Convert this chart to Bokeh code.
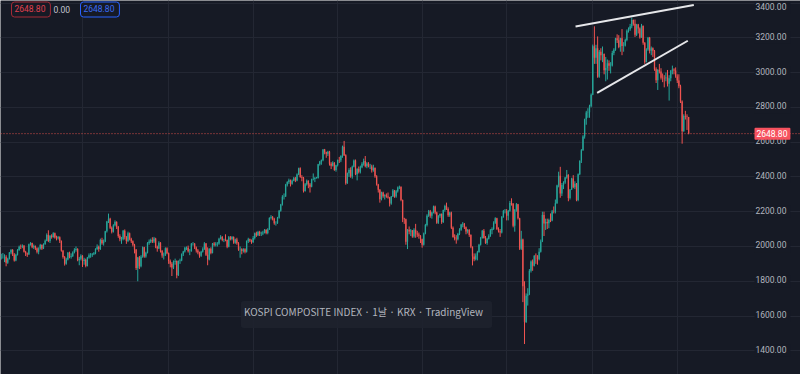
import numpy as np
from bokeh.plotting import figure
from bokeh.models import (FixedTicker, Span, Label, Range1d, ColumnDataSource)
from bokeh.embed import file_html
from bokeh.resources import INLINE

# KOSPI composite, one candle per week, starting with the week of 2014-01-06
first_open = 1946

close_2014 = [1938,1940,1940,1941,1907,1930,1965,1980,1954,1920,1953,1980,1998,1997,2004,1970,1959,1954,2013,2020,
              1995,2002,1990,1970,1988,2009,1988,2013,2033,2066,2031,2061,2055,2076,2051,2047,2053,2031,1976,1940,
              1900,1925,1964,1939,1944,1965,1980,1986,1921,1929,1946,1916]
high_2014 = [1965,1958,1962,1955,1950,1935,1968,1985,1985,1962,1958,1985,2005,2011,2012,2008,1975,1965,2016,2025,
             2022,2011,2006,1995,1995,2015,2012,2018,2040,2075,2093,2065,2070,2082,2080,2062,2060,2058,2035,1980,
             1945,1935,1968,1970,1960,1972,1990,2000,1990,1940,1955,1950]
low_2014 = [1925,1925,1930,1910,1886,1900,1925,1955,1945,1913,1915,1948,1975,1985,1990,1965,1945,1940,1952,2005,
            1990,1985,1980,1960,1955,1982,1980,1985,2010,2030,2025,2020,2045,2050,2045,2035,2040,2020,1970,1930,
            1890,1895,1920,1932,1930,1940,1960,1970,1915,1892,1920,1882]

close_2015 = [1924,1888,1936,1949,1953,1955,1961,1985,1998,1986,2037,2019,2029,2087,2143,2159,2107,2085,2122,2141,
              2114,2060,2042,2042,2091,2053,2031,2076,2044,2030,2010,1983,1876,1937,1886,1941,1995,1942,1964,2020,
              2029,2037,2029,2046,1999,1989,2022,1974,1948,1953,1990,1961]
high_2015 = [1935,1930,1940,1960,1962,1962,1968,1990,2012,2005,2045,2050,2040,2090,2147,2189,2165,2115,2128,2150,
             2145,2118,2070,2055,2095,2098,2060,2085,2080,2050,2035,2015,1985,1940,1945,1950,2000,1998,1970,2025,
             2040,2045,2053,2055,2050,2005,2030,2025,1980,1965,1995,1995]
low_2015 = [1895,1880,1885,1930,1935,1940,1950,1955,1980,1970,1980,2010,2005,2025,2080,2135,2100,2075,2080,2115,
            2100,2050,2030,2015,2035,2040,2015,2025,2035,2020,2000,1960,1865,1800,1870,1880,1935,1935,1935,1960,
            2010,2020,2020,2020,1990,1970,1985,1965,1935,1925,1945,1955]

close_2016 = [1917,1900,1879,1912,1917,1835,1916,1920,1955,1971,1992,1993,1972,1972,2015,2015,1994,1977,1966,1947,
              1969,1985,2017,1953,1925,1987,1963,2017,2010,2016,2017,2044,2055,2037,2038,2037,1999,2053,2043,2054,
              2022,2040,2019,1982,1984,1974,1984,1970,2031,2042,2035,2026]
high_2016 = [1965,1925,1910,1920,1930,1920,1920,1930,1960,1975,1998,2000,2005,1985,2020,2025,2020,2000,1985,1970,
             1975,1995,2025,2020,1995,1990,1995,2020,2025,2025,2025,2050,2065,2060,2045,2070,2040,2060,2060,2060,
             2058,2045,2050,2025,2000,1990,1990,1990,2035,2050,2045,2040]
low_2016 = [1900,1880,1830,1870,1895,1817,1830,1900,1915,1945,1965,1980,1965,1950,1970,2005,1985,1965,1955,1935,
            1940,1965,1980,1945,1892,1920,1955,1960,2000,2000,2000,2010,2040,2030,2025,2030,1990,1995,2035,2035,
            2015,2015,2010,1975,1935,1955,1965,1960,1965,2020,2025,2015]

close_2017 = [2049,2076,2065,2083,2073,2075,2080,2094,2078,2097,2164,2168,2160,2134,2134,2165,2205,2241,2286,2288,
              2355,2371,2381,2361,2378,2392,2379,2414,2450,2400,2395,2319,2358,2378,2357,2343,2386,2388,2394,2394,
              2473,2489,2496,2557,2542,2533,2544,2475,2464,2482,2440,2467]
high_2017 = [2060,2080,2085,2090,2090,2085,2090,2100,2100,2105,2168,2180,2175,2165,2145,2170,2210,2245,2295,2305,
             2360,2375,2390,2385,2385,2400,2400,2420,2453,2455,2410,2400,2365,2385,2380,2365,2390,2420,2400,2400,
             2475,2492,2500,2560,2561,2545,2550,2550,2485,2490,2485,2470]
low_2017 = [2020,2040,2055,2060,2060,2060,2065,2075,2070,2070,2095,2155,2150,2125,2120,2130,2160,2200,2235,2270,
            2285,2345,2360,2345,2355,2375,2370,2375,2410,2395,2375,2310,2315,2350,2335,2310,2340,2380,2370,2390,
            2390,2465,2470,2490,2530,2510,2520,2465,2445,2460,2435,2430]

close_2018 = [2497,2496,2520,2574,2525,2363,2421,2440,2402,2459,2494,2416,2445,2429,2455,2476,2492,2461,2477,2460,
              2460,2438,2451,2404,2357,2326,2272,2310,2289,2294,2287,2282,2247,2287,2322,2287,2318,2339,2343,2267,
              2161,2156,2027,2096,2086,2092,2057,2096,2075,2069,2061,2041]
high_2018 = [2500,2515,2525,2580,2607,2530,2425,2450,2455,2465,2500,2500,2450,2460,2465,2485,2505,2520,2485,2485,
             2475,2470,2470,2455,2410,2360,2330,2315,2315,2300,2305,2310,2285,2290,2330,2325,2325,2345,2350,2345,
             2270,2165,2160,2100,2115,2100,2095,2105,2130,2090,2080,2065]
low_2018 = [2460,2480,2485,2510,2520,2355,2360,2400,2395,2390,2455,2410,2380,2420,2420,2450,2465,2455,2450,2455,
            2445,2425,2430,2395,2350,2310,2252,2265,2280,2270,2280,2275,2230,2240,2285,2280,2280,2310,2330,2260,
            2140,2130,2010,1985,2070,2060,2050,2050,2050,2055,2045,2020]

close_2019 = [2010,2075,2124,2177,2203,2177,2196,2230,2195,2137,2176,2186,2140,2209,2233,2216,2179,2196,2108,2055,
              2045,2041,2072,2096,2126,2130,2110,2086,2094,2066,1998,1943,1927,1948,1967,2010,2049,2091,2049,2020,
              2044,2060,2093,2100,2137,2162,2101,2087,2081,2170,2204,2204]
high_2019 = [2045,2080,2130,2185,2210,2210,2200,2235,2235,2200,2180,2190,2190,2212,2240,2252,2225,2200,2200,2115,
             2070,2065,2078,2105,2130,2140,2135,2115,2100,2100,2070,2000,1960,1960,1975,2015,2055,2095,2100,2060,
             2050,2070,2100,2110,2145,2168,2165,2110,2100,2175,2210,2215]
low_2019 = [1993,2005,2070,2115,2170,2165,2160,2190,2185,2130,2130,2165,2130,2135,2200,2210,2170,2170,2100,2050,
            2035,2016,2035,2065,2090,2110,2100,2070,2075,2055,1990,1891,1915,1920,1920,1965,2005,2045,2045,2015,
            2010,2040,2055,2070,2095,2130,2095,2080,2055,2075,2165,2190]

close_2020 = [2176,2206,2250,2246,2119,2211,2243,2162,1987,2040,1771,1566,1717,1725,1860,1914,1889,1947,1945,1927,
              1970,2029,2181,2132,2141,2134,2152,2150,2201,2200,2249,2351,2407,2304,2353,2368,2396,2412,2278,2327,
              2391,2341,2360,2267,2416,2493,2553,2633,2731,2770,2772,2806,2873]
high_2020 = [2215,2210,2262,2277,2250,2215,2250,2245,2165,2090,2045,1800,1730,1760,1870,1920,1925,1950,1960,1950,
             1990,2040,2200,2200,2160,2160,2160,2190,2210,2230,2270,2355,2430,2458,2365,2375,2400,2440,2415,2330,
             2395,2410,2375,2365,2420,2495,2560,2640,2735,2780,2795,2815,2880]
low_2020 = [2150,2150,2200,2235,2110,2085,2200,2155,1980,1980,1680,1439,1560,1660,1720,1850,1860,1885,1900,1895,
            1920,1965,2025,2060,2095,2100,2105,2140,2145,2190,2190,2245,2340,2280,2290,2330,2360,2390,2260,2270,
            2325,2335,2330,2260,2260,2410,2480,2550,2620,2700,2740,2740,2800]

close_2021 = [3152,3085,3140,2976,3120,3100,3107,3013,3026,3054,3039,3041,3112,3131,3198,3186,3147,3197,3153,3156,
              3188,3240,3249,3267,3302,3281,3217,3276,3254,3202,3270,3171,3060,3133,3201,3125,3140,3125,3019,2956,
              3015,3006,2970,2969,2968,2971,2936,2968,3010,3017,3012,2977]
high_2021 = [3161,3266,3160,3208,3130,3140,3150,3110,3090,3075,3070,3060,3125,3140,3200,3220,3215,3200,3250,3175,
             3195,3248,3260,3280,3316,3305,3305,3280,3280,3260,3280,3270,3175,3140,3205,3205,3150,3145,3130,3030,
             3020,3050,3025,2995,2985,3000,3015,2985,3015,3040,3025,3030]
low_2021 = [2870,3050,3050,2970,2970,3070,3060,2990,2950,2960,3010,2995,3035,3100,3125,3170,3140,3120,3100,3120,
            3150,3180,3230,3240,3255,3270,3205,3210,3225,3195,3200,3160,3050,3060,3125,3110,3100,3090,3010,2940,
            2900,2995,2960,2945,2915,2950,2920,2839,2950,2990,2990,2970]

close_2022 = [2954,2921,2834,2663,2750,2747,2744,2648.80]
high_2022 = [2990,2990,2930,2840,2760,2780,2760,2745]
low_2022 = [2940,2910,2825,2591,2660,2730,2670,2645]

# week index of the first bar of each year 2015..2022 (vertical grid lines)
year_start_weeks = [51, 104, 156, 208, 260, 312, 365, 417]
# price scale ticks and their labels
price_ticks = [1400, 1600, 1800, 2000, 2200, 2400, 2600, 2800, 3000, 3200, 3400]
price_tick_labels = ["1400.00", "1600.00", "1800.00", "2000.00", "2200.00", "2400.00",
                     "2600.00", "2800.00", "3000.00", "3200.00", "3400.00"]
last_price = 2648.80
last_price_label = "2648.80"
change_label = "0.00"

# user-drawn trend lines (week index, price)
trend_x0 = [354.4, 367.7]
trend_y0 = [3265, 2883]
trend_x1 = [427.2, 423.5]
trend_y1 = [3388, 3183]

title_text = "KOSPI COMPOSITE INDEX · 1날 · KRX · TradingView"

# ---------------------------------------------------------------
close = (close_2014 + close_2015 + close_2016 + close_2017 + close_2018 +
         close_2019 + close_2020 + close_2021 + close_2022)
high = (high_2014 + high_2015 + high_2016 + high_2017 + high_2018 +
        high_2019 + high_2020 + high_2021 + high_2022)
low = (low_2014 + low_2015 + low_2016 + low_2017 + low_2018 +
       low_2019 + low_2020 + low_2021 + low_2022)
opens = [first_open] + close[:-1]
weeks = list(range(len(close)))

UP = "#26a69a"
DOWN = "#ef5350"
BG = "#161a25"
GRID = "#232733"
TXT = "#b2b5be"

colors = [UP if c >= o else DOWN for o, c in zip(opens, close)]
src = ColumnDataSource(dict(
    w=weeks, o=opens, c=close, h=high, l=low,
    top=[max(o, c) for o, c in zip(opens, close)],
    bottom=[min(o, c) for o, c in zip(opens, close)],
    color=colors,
))

W, H = 800, 374
px_per_week = 1.625
x_start = 0.538
x_end = x_start + W / px_per_week
y_lo, y_hi = 1263.7, 3414.5

p = figure(width=W, height=H, output_backend="svg", toolbar_location=None,
           x_range=Range1d(x_start, x_end), y_range=Range1d(y_lo, y_hi),
           x_axis_location=None, y_axis_location=None,
           background_fill_color=BG, border_fill_color=BG,
           min_border=0)
p.outline_line_color = None

p.xgrid.ticker = FixedTicker(ticks=year_start_weeks)
p.xgrid.grid_line_color = GRID
p.ygrid.ticker = FixedTicker(ticks=price_ticks)
p.ygrid.grid_line_color = GRID

# candles
p.segment(x0="w", y0="l", x1="w", y1="h", line_color="color", line_width=1, source=src)
p.vbar(x="w", width=0.8, top="top", bottom="bottom", fill_color="color",
       line_color=None, source=src)

# last price line
p.add_layout(Span(location=last_price, dimension="width", line_color=DOWN,
                  line_dash="1 2", line_width=1, line_alpha=0.9))

# trend lines
p.segment(x0=trend_x0, y0=trend_y0, x1=trend_x1, y1=trend_y1,
          line_color="#e6e7ea", line_width=2)

# price scale labels (on the right, over the grid lines)
px_per_price = H / (y_hi - y_lo)
for t, lab in zip(price_ticks, price_tick_labels):
    # keep a label that sits at the very top edge fully inside the picture
    room = (y_hi - t) * px_per_price
    off = -(7 - room) if room < 7 else 0
    p.add_layout(Label(x=754, x_units="screen", y=t, y_units="data",
                       y_offset=off,
                       text=lab, text_color=TXT, text_font="Roboto",
                       text_font_size="8.5px", text_baseline="middle",
                       text_align="left", background_fill_color=BG,
                       padding=(1, 4, 1, 4)))

# price tag on the scale
p.add_layout(Label(x=754, x_units="screen", y=last_price, y_units="data",
                   text=last_price_label, text_color="white",
                   text_font="Roboto", text_font_size="8.5px",
                   text_baseline="middle", text_align="left",
                   background_fill_color="#f7525f", padding=(2, 3, 2, 3),
                   border_radius=1))

# caption
p.add_layout(Label(x=366, x_units="screen", y=H - 314, y_units="screen",
                   text=title_text, text_color=TXT,
                   text_font="Noto Sans CJK KR", text_font_size="10px",
                   text_align="center", text_baseline="middle",
                   background_fill_color="#1e222d", background_fill_alpha=0.9,
                   padding=(3, 9, 3, 9), border_radius=3))

# top-left legend values
p.add_layout(Label(x=11, x_units="screen", y=H - 9, y_units="screen",
                   text=last_price_label, text_color="#e0404f",
                   text_font="Roboto", text_font_size="8.5px",
                   text_baseline="middle", text_align="left",
                   border_line_color="#a32a36", border_line_width=1,
                   background_fill_color=BG, padding=(3, 5, 3, 5), border_radius=3))
p.add_layout(Label(x=53, x_units="screen", y=H - 9, y_units="screen",
                   text=change_label, text_color="#c3c6ce",
                   text_font="Roboto", text_font_size="8.5px",
                   text_baseline="middle", text_align="left"))
p.add_layout(Label(x=80, x_units="screen", y=H - 9, y_units="screen",
                   text=last_price_label, text_color="#3a6cf5",
                   text_font="Roboto", text_font_size="8.5px",
                   text_baseline="middle", text_align="left",
                   border_line_color="#2962ff", border_line_width=1,
                   background_fill_color=BG, padding=(3, 5, 3, 5), border_radius=3))

html = file_html(p, INLINE, title="KOSPI")
html = html.replace("<body>", '<body style="background-color:#161a25;">', 1)
open("out.html", "w").write(html)
